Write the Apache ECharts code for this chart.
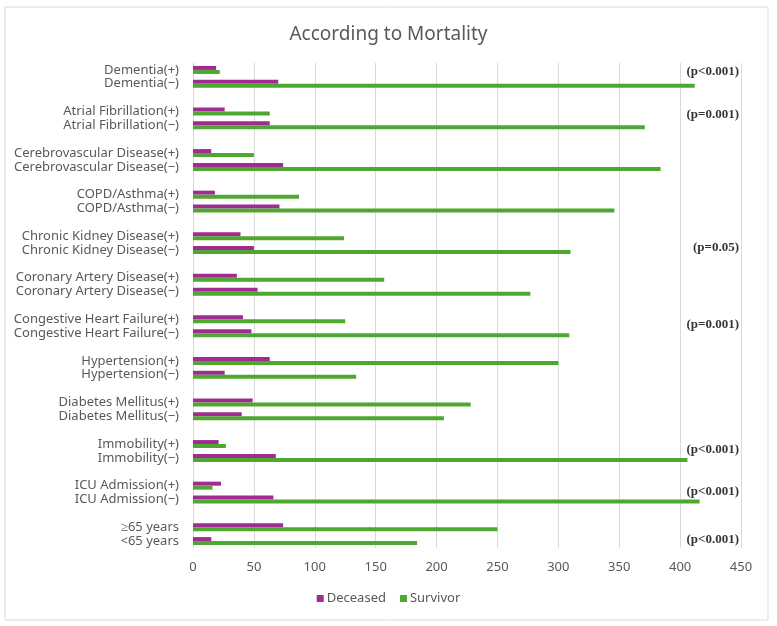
<!DOCTYPE html>
<html>
<head>
<meta charset="utf-8">
<script src="https://cdn.jsdelivr.net/npm/echarts@6/dist/echarts.min.js"></script>
<style>
  html, body { margin: 0; padding: 0; background: #fff; }
  #chart { width: 777px; height: 626px; }
</style>
</head>
<body>
<div id="chart"></div>
<script>
// categories top to bottom, '' = spacer row between groups
const categories = [
  'Dementia(+)', 'Dementia(−)', '',
  'Atrial Fibrillation(+)', 'Atrial Fibrillation(−)', '',
  'Cerebrovascular Disease(+)', 'Cerebrovascular Disease(−)', '',
  'COPD/Asthma(+)', 'COPD/Asthma(−)', '',
  'Chronic Kidney Disease(+)', 'Chronic Kidney Disease(−)', '',
  'Coronary Artery Disease(+)', 'Coronary Artery Disease(−)', '',
  'Congestive Heart Failure(+)', 'Congestive Heart Failure(−)', '',
  'Hypertension(+)', 'Hypertension(−)', '',
  'Diabetes Mellitus(+)', 'Diabetes Mellitus(−)', '',
  'Immobility(+)', 'Immobility(−)', '',
  'ICU Admission(+)', 'ICU Admission(−)', '',
  '≥65 years', '<65 years'
];
const deceased = [
  19, 70, null,
  26, 63, null,
  15, 74, null,
  18, 71, null,
  39, 50, null,
  36, 53, null,
  41, 48, null,
  63, 26, null,
  49, 40, null,
  21, 68, null,
  23, 66, null,
  74, 15
];
const survivor = [
  22, 412, null,
  63, 371, null,
  50, 384, null,
  87, 346, null,
  124, 310, null,
  157, 277, null,
  125, 309, null,
  300, 134, null,
  228, 206, null,
  27, 406, null,
  16, 416, null,
  250, 184
];
// p-value notes and the row position (category index, may fall between rows)
const pTexts = ['(p<0.001)', '(p=0.001)', '(p=0.05)', '(p=0.001)', '(p<0.001)', '(p<0.001)', '(p<0.001)'];
const pRows = [0.1, 3.2, 12.8, 18.4, 27.4, 30.4, 33.9];
const pX = 450;

const chart = echarts.init(document.getElementById('chart'));
chart.setOption({
  animation: false,
  title: {
    text: 'According to Mortality',
    left: 'center',
    top: 20,
    textStyle: { fontFamily: 'Noto Sans', fontSize: 19, fontWeight: 'normal', color: '#595959' }
  },
  graphic: [{
    type: 'rect',
    shape: { x: 5, y: 7, width: 763, height: 613 },
    style: { fill: 'none', stroke: '#D9D9D9', lineWidth: 1 },
    z: -1
  }],
  legend: {
    bottom: 16,
    left: 'center',
    itemWidth: 7,
    itemHeight: 7,
    itemGap: 14,
    icon: 'rect',
    data: ['Deceased', 'Survivor'],
    textStyle: { fontFamily: 'Noto Sans', fontSize: 13, color: '#595959', padding: [0, 0, 0, -2] }
  },
  grid: { left: 193, right: 36, top: 63, bottom: 78 },
  xAxis: {
    type: 'value',
    min: 0,
    max: 450,
    interval: 50,
    axisLine: { show: false },
    axisTick: { show: false },
    splitLine: { lineStyle: { color: '#D9D9D9' } },
    axisLabel: { fontFamily: 'Noto Sans', fontSize: 13, color: '#595959', margin: 13 }
  },
  yAxis: [
    {
      type: 'category',
      data: categories,
      inverse: true,
      axisLine: { show: true, lineStyle: { color: '#D9D9D9' } },
      axisTick: { show: false },
      axisLabel: { fontFamily: 'Noto Sans', fontSize: 13, color: '#595959', margin: 14, interval: 0 }
    },
    {
      // hidden row-index axis for the p-value notes
      type: 'value',
      inverse: true,
      min: -0.5,
      max: categories.length - 0.5,
      show: false
    }
  ],
  series: [
    {
      name: 'Deceased',
      type: 'bar',
      data: deceased,
      barWidth: 4,
      barGap: '0%',
      itemStyle: { color: '#A02B93' }
    },
    {
      name: 'Survivor',
      type: 'bar',
      data: survivor,
      barWidth: 4,
      barGap: '0%',
      itemStyle: { color: '#4EA72E' }
    },
    {
      name: 'p',
      type: 'scatter',
      yAxisIndex: 1,
      symbolSize: 0,
      silent: true,
      data: pTexts.map((t, i) => ({ value: [pX, pRows[i]], name: t })),
      label: {
        show: true,
        position: 'left',
        distance: 2,
        formatter: (p) => p.name,
        fontFamily: 'Liberation Serif',
        fontWeight: 'bold',
        fontSize: 13,
        color: '#000'
      }
    }
  ]
});
window.onresize = () => chart.resize();
</script>
</body>
</html>
